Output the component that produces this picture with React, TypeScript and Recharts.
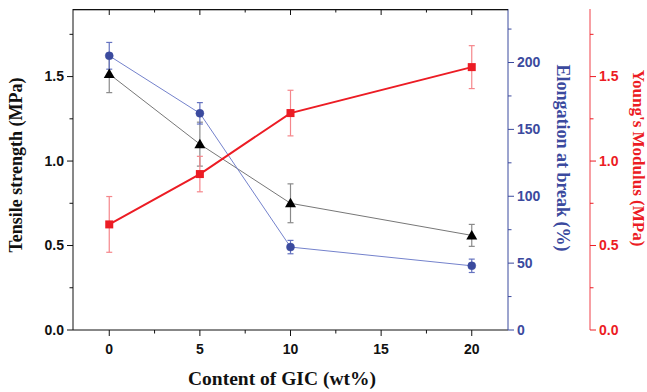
import React from "react";
import {
  ComposedChart,
  Line,
  XAxis,
  YAxis,
  ErrorBar,
} from "recharts";

// GIC loading (wt%) and the three measured properties
const gicContent = [0, 5, 10, 20];
const tensileStrength = [1.515, 1.1, 0.75, 0.56];
const tensileError = [0.11, 0.13, 0.115, 0.065];
const elongationAtBreak = [205, 162, 62, 48];
const elongationError = [10, 8, 5, 5];
const youngsModulus = [0.625, 0.923, 1.284, 1.556];
const youngsError = [0.165, 0.105, 0.135, 0.127];

const xDomain = [-2, 22];
const xTicks = [0, 2.5, 5, 7.5, 10, 12.5, 15, 17.5, 20];
const mpaTicks = [0, 0.25, 0.5, 0.75, 1, 1.25, 1.5, 1.75];
const elongationTicks = [0, 25, 50, 75, 100, 125, 150, 175, 200, 225];

const data = gicContent.map((g, i) => ({
  gic: g,
  ts: tensileStrength[i],
  tsErr: tensileError[i],
  el: elongationAtBreak[i],
  elErr: elongationError[i],
  ym: youngsModulus[i],
  ymErr: youngsError[i],
}));

const W = 647;
const H = 392;
const LEFT_W = 73;
const EL_W = 82;
const YM_W = 57;
const X_H = 62;
const TOP = 9;

const BLACK = "#111111";
const BLUE = "#3b4a9e";
const RED = "#ec1c24";
const SANS = "'Liberation Sans', Arial, sans-serif";
const SERIF = "'Liberation Serif', 'Times New Roman', serif";
const TICK = 6;
const GAP = 3;

function isMajor(v: number, step: number) {
  return Math.abs(v / step - Math.round(v / step)) < 1e-6;
}

function AxisTick(props: any) {
  const { x, y, payload, orient, color, step, digits } = props;
  const v = payload.value as number;
  const major = isMajor(v, step);
  const len = major ? 6 : 3.5;
  const text = digits > 0 ? v.toFixed(digits) : String(v);
  const off = TICK + GAP;
  const fontProps = {
    fill: color,
    fontFamily: SANS,
    fontWeight: 700,
    fontSize: 14,
  };
  if (orient === "left") {
    const ax = x + off;
    return (
      <g>
        <line x1={ax} x2={ax - len} y1={y} y2={y} stroke={color} strokeWidth={1} />
        {major && (
          <text x={ax - 9} y={y} dy="0.35em" textAnchor="end" {...fontProps}>
            {text}
          </text>
        )}
      </g>
    );
  }
  if (orient === "right") {
    const ax = x - off;
    return (
      <g>
        <line x1={ax} x2={ax + len} y1={y} y2={y} stroke={color} strokeWidth={1} />
        {major && (
          <text x={ax + 9} y={y} dy="0.35em" textAnchor="start" {...fontProps}>
            {text}
          </text>
        )}
      </g>
    );
  }
  const ay = y - off;
  return (
    <g>
      <line x1={x} x2={x} y1={ay} y2={ay + len} stroke={color} strokeWidth={1} />
      {major && (
        <text x={x} y={ay + 19} dy="0.35em" textAnchor="middle" {...fontProps}>
          {text}
        </text>
      )}
    </g>
  );
}

function Triangle(props: any) {
  const { cx, cy, index } = props;
  if (cx == null || cy == null) return <g key={`t${index}`} />;
  return (
    <path
      key={`t${index}`}
      d={`M${cx},${cy - 5.5} L${cx + 5.5},${cy + 4} L${cx - 5.5},${cy + 4} Z`}
      fill="#000"
    />
  );
}

function Square(props: any) {
  const { cx, cy, index } = props;
  if (cx == null || cy == null) return <g key={`s${index}`} />;
  return <rect key={`s${index}`} x={cx - 4} y={cy - 4} width={8} height={8} fill={RED} />;
}

function Title({ x, y, angle, color, size, children }: any) {
  return (
    <text
      x={x}
      y={y}
      transform={`rotate(${angle}, ${x}, ${y})`}
      textAnchor="middle"
      dominantBaseline="central"
      fill={color}
      fontFamily={SERIF}
      fontWeight={700}
      fontSize={size}
    >
      {children}
    </text>
  );
}

// top edge of the plot box with inward ticks (Origin-style frame)
function TopFrame() {
  const left = LEFT_W;
  const right = W - EL_W - YM_W;
  const span = xDomain[1] - xDomain[0];
  return (
    <svg
      width={W}
      height={H}
      style={{ position: "absolute", left: 0, top: 0, pointerEvents: "none", zIndex: 2 }}
    >
      <rect x={left} y={TOP} width={right - left} height={1.3} fill={BLACK} />
      {xTicks.map((t) => {
        const px = left + ((t - xDomain[0]) / span) * (right - left);
        return (
          <rect
            key={t}
            x={px - 0.5}
            y={TOP}
            width={1}
            height={isMajor(t, 5) ? 6 : 3.5}
            fill={BLACK}
          />
        );
      })}
    </svg>
  );
}

export default function App() {
  return (
    <div style={{ position: "absolute", left: 0, top: 0, width: W, height: H, background: "#fff" }}>
      <ComposedChart
        width={W}
        height={H}
        data={data}
        margin={{ top: TOP, right: 0, bottom: 0, left: 0 }}
      >
        <XAxis
          xAxisId="x"
          dataKey="gic"
          type="number"
          domain={xDomain}
          ticks={xTicks}
          allowDataOverflow
          height={X_H}
          stroke={BLACK}
          tickLine={false}
          tickSize={TICK}
          tickMargin={GAP}
          tick={(p: any) => <AxisTick {...p} orient="bottom" color={BLACK} step={5} digits={0} />}
          label={() => (
            <Title x={282} y={378} angle={0} color={BLACK} size={19.5}>
              Content of GIC (wt%)
            </Title>
          )}
        />
        <YAxis
          yAxisId="ts"
          orientation="left"
          width={LEFT_W}
          domain={[0, 1.9]}
          ticks={mpaTicks}
          allowDataOverflow
          stroke={BLACK}
          tickLine={false}
          tickSize={TICK}
          tickMargin={GAP}
          tick={(p: any) => <AxisTick {...p} orient="left" color={BLACK} step={0.5} digits={1} />}
          label={() => (
            <Title x={16} y={165} angle={-90} color={BLACK} size={18}>
              Tensile strength (MPa)
            </Title>
          )}
        />
        <YAxis
          yAxisId="el"
          orientation="right"
          width={EL_W}
          domain={[0, 240]}
          ticks={elongationTicks}
          allowDataOverflow
          stroke={BLUE}
          tickLine={false}
          tickSize={TICK}
          tickMargin={GAP}
          tick={(p: any) => <AxisTick {...p} orient="right" color={BLUE} step={50} digits={0} />}
          label={() => (
            <Title x={563} y={158} angle={90} color={BLUE} size={18}>
              Elongation at break (%)
            </Title>
          )}
        />
        <YAxis
          yAxisId="ym"
          orientation="right"
          width={YM_W}
          domain={[0, 1.9]}
          ticks={mpaTicks}
          allowDataOverflow
          stroke="#f04048"
          tickLine={false}
          tickSize={TICK}
          tickMargin={GAP}
          tick={(p: any) => <AxisTick {...p} orient="right" color={RED} step={0.5} digits={1} />}
          label={() => (
            <Title x={638} y={158} angle={90} color={RED} size={17}>
              Young's Modulus (MPa)
            </Title>
          )}
        />

        <Line
          xAxisId="x"
          yAxisId="ts"
          dataKey="ts"
          type="linear"
          stroke="#777777"
          strokeWidth={1}
          dot={Triangle}
          activeDot={false}
          isAnimationActive={false}
        >
          <ErrorBar dataKey="tsErr" direction="y" width={3} stroke="#8a8a8a" strokeWidth={1.2} />
        </Line>
        <Line
          xAxisId="x"
          yAxisId="el"
          dataKey="el"
          type="linear"
          stroke="#7482cc"
          strokeWidth={1}
          dot={{ r: 4, fill: BLUE, stroke: BLUE, strokeWidth: 0.5 }}
          activeDot={false}
          isAnimationActive={false}
        >
          <ErrorBar dataKey="elErr" direction="y" width={3} stroke="#6573c0" strokeWidth={1.2} />
        </Line>
        <Line
          xAxisId="x"
          yAxisId="ym"
          dataKey="ym"
          type="linear"
          stroke={RED}
          strokeWidth={2}
          dot={Square}
          activeDot={false}
          isAnimationActive={false}
        >
          <ErrorBar dataKey="ymErr" direction="y" width={3} stroke="#f5868b" strokeWidth={1.2} />
        </Line>
      </ComposedChart>
      <TopFrame />
    </div>
  );
}
